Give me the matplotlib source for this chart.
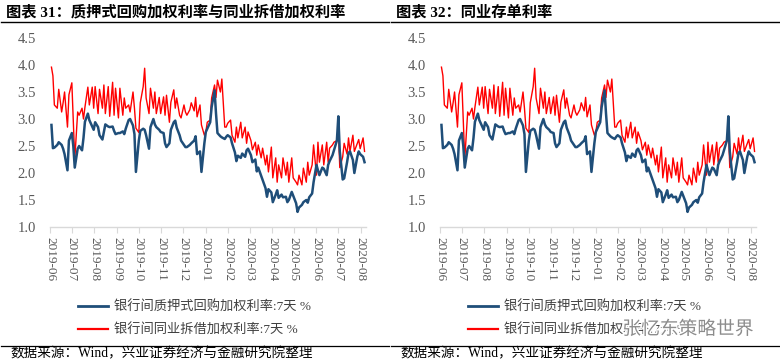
import pandas as pd
import matplotlib
matplotlib.use('Agg')
import matplotlib.pyplot as plt
import matplotlib.dates as mdates
import matplotlib.patheffects as pe
from matplotlib.lines import Line2D

plt.rcParams['font.family'] = ['Liberation Serif', 'Noto Sans CJK SC', 'DejaVu Sans']

# 银行间质押式回购加权利率:7天 (every 2nd business day)
repo_7d = [
    2.89, 2.46, 2.47, 2.52, 2.57, 2.52, 2.45, 2.35, 2.05, 2.60, 2.74,
    2.50, 2.10, 2.45, 2.50, 2.42, 2.65, 2.95, 3.10, 2.98, 2.86, 2.80,
    2.94, 2.85, 2.70, 2.62, 2.76, 2.90, 2.86, 2.85, 2.86, 2.78, 2.72,
    2.74, 2.74, 2.77, 2.72, 2.82, 2.98, 3.00, 2.88, 2.72, 2.02, 2.60,
    2.78, 2.82, 2.80, 2.70, 2.45, 2.85, 3.00, 2.90, 2.85, 2.80, 2.76,
    2.74, 2.55, 2.48, 2.55, 2.80, 2.94, 2.97, 2.84, 2.70, 2.60, 2.52,
    2.48, 2.48, 2.52, 2.55, 2.60, 2.68, 2.35, 2.40, 2.02, 2.55, 2.76,
    2.82, 2.94, 3.22, 3.53, 3.10, 2.74, 2.68, 2.66, 2.63, 2.67, 2.70,
    2.66, 2.55, 2.38, 2.22, 2.32, 2.28, 2.36, 2.30, 2.42, 2.45, 2.33,
    2.20, 2.25, 2.03, 2.10, 1.95, 1.88, 1.72, 1.56, 1.70, 1.64, 1.46,
    1.60, 1.68, 1.54, 1.60, 1.55, 1.56, 1.46, 1.50, 1.65, 1.58, 1.44,
    1.28, 1.36, 1.41, 1.46, 1.50, 1.45, 1.55, 1.62, 1.83, 2.15, 2.05,
    1.96, 2.10, 2.08, 1.96, 2.15, 2.22, 2.33, 2.42, 2.60, 3.05, 2.40,
    1.88, 1.90, 2.20, 2.37, 2.40, 2.24, 2.00, 2.30, 2.40, 2.35, 2.30,
    2.20,
]

# 银行间同业拆借加权利率:7天
ibor_7d = [
    3.96, 3.80, 3.26, 3.20, 3.55, 3.13, 3.30, 3.50, 2.85, 3.45, 3.67,
    2.94, 2.25, 3.13, 3.07, 3.20, 3.00, 3.22, 3.59, 3.26, 3.59, 3.20,
    3.60, 3.10, 3.55, 3.20, 3.63, 3.10, 3.60, 3.05, 3.68, 3.07, 3.57,
    3.02, 3.57, 3.07, 3.39, 3.20, 3.26, 3.13, 3.50, 3.20, 2.83, 2.75,
    3.30, 3.60, 3.94, 3.39, 3.10, 3.57, 3.20, 3.50, 3.10, 3.40, 3.10,
    3.41, 3.07, 3.44, 2.94, 3.31, 3.54, 3.20, 3.39, 3.07, 3.02, 3.26,
    3.13, 3.07, 3.17, 3.30, 3.15, 3.40, 3.04, 3.26, 2.89, 2.70, 2.76,
    2.94, 2.98, 3.39, 3.63, 3.40, 3.72, 3.50, 3.74, 2.85, 2.85, 2.92,
    2.98, 2.70, 2.57, 2.85, 2.65, 2.94, 2.65, 2.85, 2.55, 2.76, 2.60,
    2.43, 2.57, 2.33, 2.52, 2.28, 2.46, 2.15, 2.33, 2.02, 2.48, 1.91,
    2.28, 1.83, 2.15, 1.91, 2.28, 1.96, 2.20, 1.83, 2.28, 1.91, 1.83,
    1.78, 1.96, 1.78, 2.09, 1.83, 2.20, 1.96, 2.15, 2.52, 1.96, 2.57,
    2.20, 2.52, 2.15, 2.57, 2.20, 2.46, 2.52, 2.57, 2.60, 2.83, 2.10,
    2.30, 2.55, 2.35, 2.65, 2.40, 2.70, 2.40, 2.55, 2.62, 2.45, 2.65,
    2.40,
]

dates = pd.bdate_range('2019-06-03', periods=len(repo_7d), freq='2B')
month_ticks = pd.date_range('2019-06-01', '2020-08-01', freq='MS')
y_ticks = [1.0, 1.5, 2.0, 2.5, 3.0, 3.5, 4.0, 4.5]

titles = ['图表 31：质押式回购加权利率与同业拆借加权利率', '图表 32：同业存单利率']
legend_labels = ['银行间质押式回购加权利率:7天 %', '银行间同业拆借加权利率:7天 %']
source_note = '数据来源：Wind，兴业证券经济与金融研究院整理'

BLUE = '#1f4e79'
RED = '#ff0000'
GREY = '#595959'

W, H = 780, 364
fig = plt.figure(figsize=(W / 100, H / 100), dpi=100)


def fx(x):
    return x / W


def fy(y):
    return 1 - y / H


for k, off in enumerate([0, 390]):
    ax = fig.add_axes([fx(50 + off), fy(227), 316 / W, 189 / H])
    ax.plot(dates, ibor_7d, color=RED, lw=1.0, zorder=2)
    ax.plot(dates, repo_7d, color=BLUE, lw=1.8, zorder=3)

    ax.set_xlim(pd.Timestamp('2019-06-01'), pd.Timestamp('2020-08-08'))
    ax.set_ylim(1.0, 4.5)
    ax.set_xticks(month_ticks)
    ax.xaxis.set_major_formatter(mdates.DateFormatter('%Y-%m'))
    ax.set_yticks(y_ticks)
    ax.set_yticklabels([f'{v:.1f}' for v in y_ticks])

    for s in ['top', 'right', 'left']:
        ax.spines[s].set_visible(False)
    ax.spines['bottom'].set_color('#d9d9d9')
    ax.spines['bottom'].set_linewidth(1.0)
    ax.tick_params(axis='x', direction='out', length=4, width=0.8, color='#d9d9d9',
                   labelsize=9.5, labelcolor=GREY, labelrotation=-90, pad=3)
    ax.tick_params(axis='y', length=0, labelsize=10.5, labelcolor=GREY, pad=10)

    handles = [Line2D([], [], color=BLUE, lw=2.0), Line2D([], [], color=RED, lw=1.6)]
    ax.legend(handles, legend_labels, loc='upper left',
              bbox_to_anchor=(fx(78 + off), fy(301)), bbox_transform=fig.transFigure,
              frameon=False, fontsize=9.5, handlelength=2.3, handletextpad=0.4,
              labelspacing=0.75, borderpad=0, borderaxespad=0, labelcolor='#404040')

    fig.text(fx(6 + off), fy(12), titles[k], fontsize=11, fontweight='bold',
             ha='left', va='center', color='black')
    fig.add_artist(Line2D([fx(off + 1), fx(off + 389)], [fy(22), fy(22)],
                          color='black', lw=1.0))
    fig.add_artist(Line2D([fx(off + 1), fx(off + 389)], [fy(345.5), fy(345.5)],
                          color='black', lw=0.9))
    fig.text(fx(10 + off), fy(354), source_note, fontsize=9.8,
             ha='left', va='center', color='black')

fig.text(fx(688), fy(329), '张忆东策略世界', fontsize=13.5, color='#8c8c8c',
         family=['Noto Sans CJK SC'], ha='center', va='center',
         path_effects=[pe.withStroke(linewidth=2, foreground='white')])

fig.savefig('out.png', dpi=100)
